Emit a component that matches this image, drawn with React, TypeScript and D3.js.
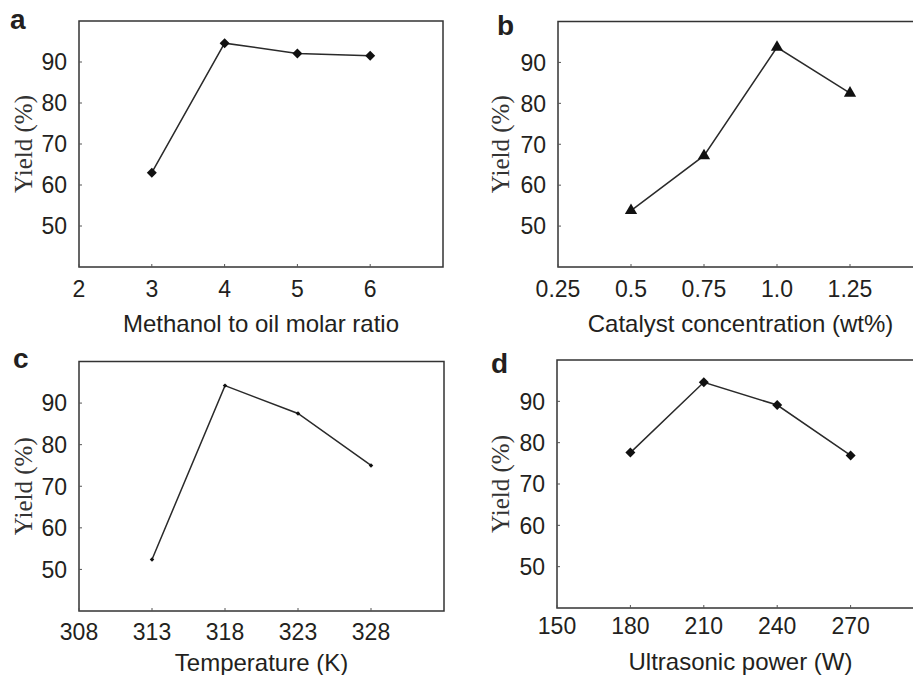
import React from "react";
import * as d3 from "d3";

// ---- data ----
const ratioX = [3, 4, 5, 6];
const ratioYield = [63.0, 94.6, 92.1, 91.5];
const ratioTicks = ["2", "3", "4", "5", "6"];

const catalystX = [0.5, 0.75, 1.0, 1.25];
const catalystYield = [53.8, 67.2, 93.7, 82.5];
const catalystTicks = ["0.25", "0.5", "0.75", "1.0", "1.25"];

const tempX = [313, 318, 323, 328];
const tempYield = [52.4, 94.2, 87.5, 75.0];
const tempTicks = ["308", "313", "318", "323", "328"];

const powerX = [180, 210, 240, 270];
const powerYield = [77.6, 94.6, 89.1, 76.9];
const powerTicks = ["150", "180", "210", "240", "270"];

const yTicks = [50, 60, 70, 80, 90];
const yDomain = [40, 100];

type Panel = {
  letter: string;
  xs: number[];
  ys: number[];
  xTicks: string[];
  xDomain: [number, number];
  title: string;
  left: number;
  right: number;
  top: number;
  bottom: number;
  letterX: number;
  letterY: number;
  ylabX: number;
  tickDy: number;
  titleY: number;
  symbol: d3.SymbolType;
  symSize: number;
  symRot: number;
};

const panels: Panel[] = [
  {
    letter: "a", xs: ratioX, ys: ratioYield, xTicks: ratioTicks, xDomain: [2, 7],
    title: "Methanol to oil molar ratio",
    left: 79, right: 443, top: 21, bottom: 267,
    letterX: 10, letterY: 29, ylabX: 23, tickDy: 30, titleY: 332,
    symbol: d3.symbolSquare, symSize: 50, symRot: 45,
  },
  {
    letter: "b", xs: catalystX, ys: catalystYield, xTicks: catalystTicks, xDomain: [0.25, 1.5],
    title: "Catalyst concentration (wt%)",
    left: 558, right: 923, top: 21.5, bottom: 267,
    letterX: 497, letterY: 35, ylabX: 500, tickDy: 30, titleY: 332,
    symbol: d3.symbolTriangle, symSize: 65, symRot: 0,
  },
  {
    letter: "c", xs: tempX, ys: tempYield, xTicks: tempTicks, xDomain: [308, 333],
    title: "Temperature (K)",
    left: 79, right: 444, top: 361.5, bottom: 611,
    letterX: 13, letterY: 368, ylabX: 23, tickDy: 29, titleY: 671,
    symbol: d3.symbolSquare, symSize: 10, symRot: 45,
  },
  {
    letter: "d", xs: powerX, ys: powerYield, xTicks: powerTicks, xDomain: [150, 300],
    title: "Ultrasonic power (W)",
    left: 557, right: 924, top: 360, bottom: 608,
    letterX: 491, letterY: 373, ylabX: 500, tickDy: 26, titleY: 670,
    symbol: d3.symbolSquare, symSize: 50, symRot: 45,
  },
];

const SANS = "'Liberation Sans', Arial, Helvetica, sans-serif";
const SERIF = "'Liberation Serif', 'Times New Roman', serif";
const INK = "#231f20";

function PanelView({ p }: { p: Panel }) {
  const x = d3.scaleLinear().domain(p.xDomain).range([p.left, p.right]);
  const y = d3.scaleLinear().domain(yDomain).range([p.bottom, p.top]);
  const pts = p.xs.map((v, i) => [x(v), y(p.ys[i])] as [number, number]);
  const line = d3.line()(pts) || "";
  const sym = d3.symbol().type(p.symbol).size(p.symSize)() || "";
  const cy = (p.top + p.bottom) / 2;
  const cx = (p.left + p.right) / 2;
  return (
    <g>
      <text x={p.letterX} y={p.letterY} fontFamily={SANS} fontWeight="bold" fontSize={28} fill={INK}>
        {p.letter}
      </text>
      <rect x={p.left} y={p.top} width={p.right - p.left} height={p.bottom - p.top}
        fill="none" stroke="#333" strokeWidth={1.5} />
      {yTicks.map((t) => (
        <g key={"y" + t}>
          <line x1={p.left} x2={p.left + 3} y1={y(t)} y2={y(t)} stroke="#555" strokeWidth={1} />
          <text x={p.left - 12} y={y(t)} dy="0.36em" textAnchor="end" fontFamily={SANS} fontSize={23} fill={INK}>
            {t}
          </text>
        </g>
      ))}
      {p.xTicks.map((t) => {
        const v = parseFloat(t);
        return (
          <g key={"x" + t}>
            <line x1={x(v)} x2={x(v)} y1={p.bottom} y2={p.bottom - 3} stroke="#555" strokeWidth={1} />
            <text x={x(v)} y={p.bottom + p.tickDy} textAnchor="middle" fontFamily={SANS} fontSize={23} fill={INK}>
              {t}
            </text>
          </g>
        );
      })}
      <text x={cx} y={p.titleY} textAnchor="middle" fontFamily={SANS} fontSize={24} fill={INK}>
        {p.title}
      </text>
      <text transform={`translate(${p.ylabX},${cy}) rotate(-90)`} textAnchor="middle" dy="0.35em"
        fontFamily={SERIF} fontSize={25} fill="#333">
        Yield (%)
      </text>
      <path d={line} fill="none" stroke="#2a2a2a" strokeWidth={1.5} />
      {pts.map(([px, py], i) => (
        <path key={i} d={sym} transform={`translate(${px},${py}) rotate(${p.symRot})`} fill="#111" />
      ))}
    </g>
  );
}

export default function App() {
  return (
    <>
      <style>{`body{margin:0;background:#fff}`}</style>
      <svg width={913} height={675} style={{ display: "block", background: "#fff" }}>
        {panels.map((p) => (
          <PanelView key={p.letter} p={p} />
        ))}
      </svg>
    </>
  );
}
